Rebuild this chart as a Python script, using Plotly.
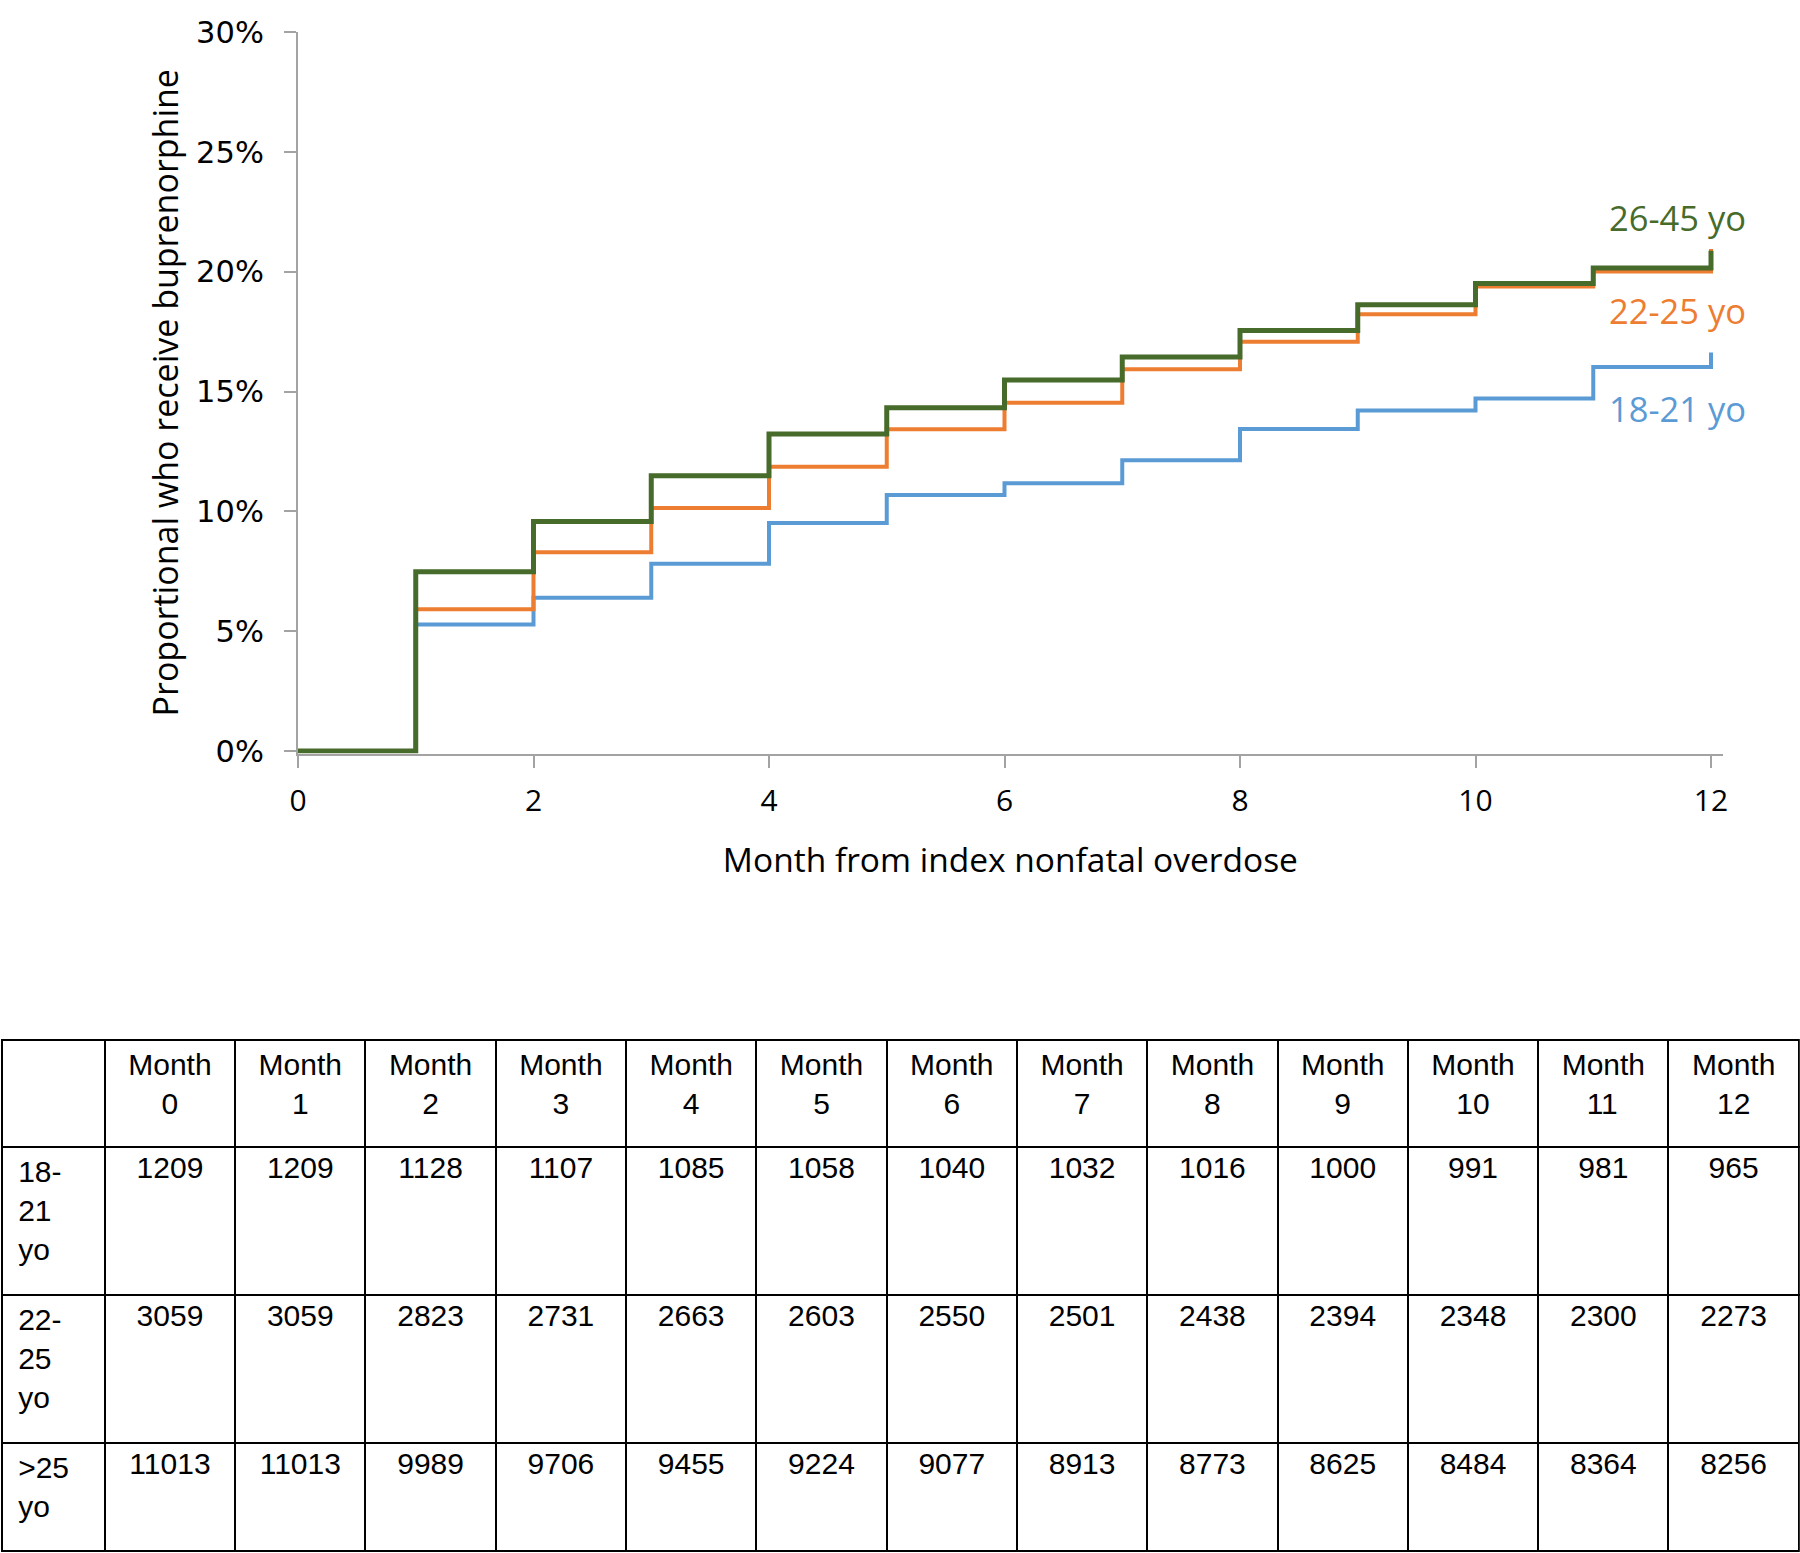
import plotly.graph_objects as go

# cumulative % receiving buprenorphine (month 0..12)
months = list(range(13))
pct_18_21 = [0, 5.28, 6.39, 7.81, 9.51, 10.68, 11.17, 12.13, 13.44, 14.21, 14.71, 16.02, 16.63]
pct_22_25 = [0, 5.91, 8.29, 10.14, 11.86, 13.42, 14.53, 15.93, 17.08, 18.22, 19.38, 20.01, 20.95]
pct_26_45 = [0, 7.48, 9.58, 11.48, 13.23, 14.32, 15.48, 16.44, 17.55, 18.62, 19.51, 20.15, 20.87]

series_names = ['18-21 yo', '22-25 yo', '26-45 yo']
series_colors = ['#5b9bd5', '#ed7d31', '#476b2a']

yticks = [0, 5, 10, 15, 20, 25, 30]
xticks = [0, 2, 4, 6, 8, 10, 12]

# numbers at risk table
row_labels = [['18-', '21', 'yo'], ['22-', '25', 'yo'], ['>25', 'yo']]
n_18_21 = [1209, 1209, 1128, 1107, 1085, 1058, 1040, 1032, 1016, 1000, 991, 981, 965]
n_22_25 = [3059, 3059, 2823, 2731, 2663, 2603, 2550, 2501, 2438, 2394, 2348, 2300, 2273]
n_over_25 = [11013, 11013, 9989, 9706, 9455, 9224, 9077, 8913, 8773, 8625, 8484, 8364, 8256]

W = 1800
H = 1553
AXIS_GREY = '#a3a3a3'
TABLE_FONT = dict(family='Liberation Sans, Arial', size=30, color='black')
NB = '\u00a0'


def lab(lines):
    return '<br>'.join(NB + s for s in lines)


def month_head(m):
    # plotly tables only centre the first line of a cell, so pad the second one
    pad = 4 if m < 10 else 3
    return 'Month<br>' + NB * pad + str(m)


fig = go.Figure()

for name, ys, color, width in zip(series_names, [pct_18_21, pct_22_25, pct_26_45], series_colors, [4, 4, 5]):
    fig.add_trace(
        trace=go.Scatter(
            x=months,
            y=ys,
            name=name,
            mode='lines',
            line=dict(color=color, width=width, shape='hv'),
            showlegend=False,
        )
    )

# series labels at the right end
label_y = {'26-45 yo': 22.25, '22-25 yo': 18.36, '18-21 yo': 14.31}
for name, color in zip(series_names, series_colors):
    fig.add_annotation(
        text=name,
        xref='paper', x=1748 / W, xanchor='right',
        yref='y', y=label_y[name], yanchor='middle',
        showarrow=False,
        font=dict(family='Open Sans', size=34.5, color=color),
    )

col_w = [103] + [130.3] * 13
col_align = ['left'] + ['center'] * 13

fig.add_trace(
    go.Table(
        domain=dict(x=[0.001, 0.9995], y=[1 - 1443 / H, 1 - 1040 / H]),
        columnwidth=col_w,
        header=dict(
            values=[''] + [month_head(m) for m in months],
            height=107,
            align='center',
            fill_color='white',
            line=dict(color='black', width=2),
            font=TABLE_FONT,
        ),
        cells=dict(
            values=[[lab(row_labels[0]), lab(row_labels[1])]] + [[a, b] for a, b in zip(n_18_21, n_22_25)],
            height=148,
            align=col_align,
            fill_color='white',
            line=dict(color='black', width=2),
            font=TABLE_FONT,
        ),
    )
)

fig.add_trace(
    go.Table(
        domain=dict(x=[0.001, 0.9995], y=[0, 1 - 1443 / H]),
        columnwidth=col_w,
        header=dict(
            values=[lab(row_labels[2])] + [str(v) for v in n_over_25],
            height=108,
            align=col_align,
            fill_color='white',
            line=dict(color='black', width=2),
            font=TABLE_FONT,
        ),
    )
)

x0_px, x12_px = 298, 1711
px_month = (x12_px - x0_px) / 12
y0_px, y30_px = 751, 32
px_pct = (y0_px - y30_px) / 30
y_low = -0.105  # a little room so the 0% line is not clipped

fig.update_layout(
    width=W,
    height=H,
    margin=dict(l=0, r=0, t=0, b=0, autoexpand=False),
    paper_bgcolor='white',
    plot_bgcolor='white',
    showlegend=False,
    xaxis=dict(
        domain=[x0_px / W, (x0_px + 12.1 * px_month) / W],
        range=[0, 12.1],
        tickvals=xticks,
        showgrid=False,
        zeroline=False,
        showline=True,
        linecolor=AXIS_GREY,
        linewidth=2,
        ticks='outside',
        ticklen=12,
        tickwidth=2,
        tickcolor=AXIS_GREY,
        ticklabelstandoff=7,
        tickfont=dict(family='Open Sans', size=30, color='black'),
        layer='below traces',
        automargin=False,
        title=dict(text='Month from index nonfatal overdose', standoff=30,
                   font=dict(family='Open Sans', size=33.5, color='black')),
    ),
    yaxis=dict(
        domain=[1 - (y0_px - y_low * px_pct) / H, 1 - y30_px / H],
        range=[y_low, 30],
        tickvals=yticks,
        ticktext=['%d%%' % v for v in yticks],
        showgrid=False,
        zeroline=False,
        showline=True,
        linecolor=AXIS_GREY,
        linewidth=2,
        ticks='outside',
        ticklen=12,
        tickwidth=2,
        tickcolor=AXIS_GREY,
        ticklabelstandoff=14,
        tickfont=dict(family='DejaVu Sans', size=30.5, color='black'),
        layer='below traces',
        automargin=False,
        title=dict(text='Proportional who receive buprenorphine', standoff=7,
                   font=dict(family='Open Sans', size=34, color='black')),
    ),
)

# page body has a default 8px margin; drop it so the figure sits at the top-left corner
fig.write_html('out.html', config={'displayModeBar': False},
               post_script="document.body.style.margin='0';")
